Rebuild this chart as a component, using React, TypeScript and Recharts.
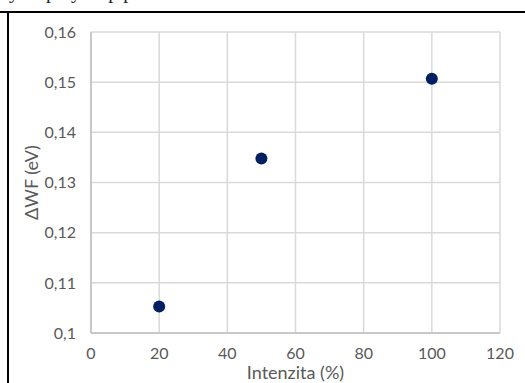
import { ScatterChart, Scatter, XAxis, YAxis, CartesianGrid } from "recharts";

const intensity = [20, 50, 100];
const deltaWF = [0.1053, 0.1348, 0.1507];
const xTicks = [0, 20, 40, 60, 80, 100, 120];
const yTicks = [0.1, 0.11, 0.12, 0.13, 0.14, 0.15, 0.16];

const points = intensity.map((x, i) => ({ x, y: deltaWF[i] }));

const font = "Lato, 'Open Sans', sans-serif";
const grey = "#595959";

const fmtComma = (v: number) => String(Number(v.toFixed(2))).replace(".", ",");

const Dot = (props: any) => <circle cx={props.cx} cy={props.cy} r={6} fill="#002060" />;

export default function App() {
  return (
    <div
      style={{
        position: "fixed",
        left: 0,
        top: 0,
        width: 525,
        height: 383,
        background: "#fff",
        overflow: "hidden",
      }}
    >
      {/* cropped line of document text above the table */}
      <div
        style={{
          position: "absolute",
          left: 0,
          top: 0,
          width: 525,
          height: 11,
          overflow: "hidden",
        }}
      >
        <div
          style={{
            position: "absolute",
            left: 0,
            top: -20,
            fontFamily: "'Liberation Serif', serif",
            fontSize: 20,
            color: "#222",
            whiteSpace: "nowrap",
          }}
        >
          ey step by step process
        </div>
      </div>
      <div style={{ position: "absolute", left: 0, top: 11, width: 525, height: 1.5, background: "#000" }} />
      <div style={{ position: "absolute", left: 7, top: 11, width: 1.5, height: 372, background: "#000" }} />

      <div style={{ position: "absolute", left: 0, top: 0 }}>
        <ScatterChart
          width={525}
          height={383}
          margin={{ top: 32, right: 25, bottom: 0, left: 0 }}
          style={{ fontFamily: font }}
        >
          <CartesianGrid stroke="#d9d9d9" strokeWidth={1.5} />
          <XAxis
            type="number"
            dataKey="x"
            domain={[0, 120]}
            ticks={xTicks}
            interval={0}
            height={50}
            stroke="#bfbfbf"
            strokeWidth={1.5}
            tickLine={false}
            tickSize={0}
            tickMargin={15}
            tick={{ fontSize: 16, fill: grey }}
            label={{
              value: "Intenzita (%)",
              position: "insideBottom",
              offset: 4,
              fontSize: 18,
              fill: grey,
            }}
          />
          <YAxis
            type="number"
            dataKey="y"
            domain={[0.1, 0.16]}
            ticks={yTicks}
            interval={0}
            width={91}
            stroke="#bfbfbf"
            strokeWidth={1.5}
            tickLine={false}
            tickSize={0}
            tickMargin={15}
            tickFormatter={fmtComma}
            tick={{ fontSize: 16, fill: grey }}
            label={{
              value: "ΔWF (eV)",
              angle: -90,
              position: "insideLeft",
              offset: 32,
              style: { textAnchor: "middle" },
              fontSize: 18,
              fill: grey,
            }}
          />
          <Scatter data={points} shape={Dot} isAnimationActive={false} />
        </ScatterChart>
      </div>
    </div>
  );
}
